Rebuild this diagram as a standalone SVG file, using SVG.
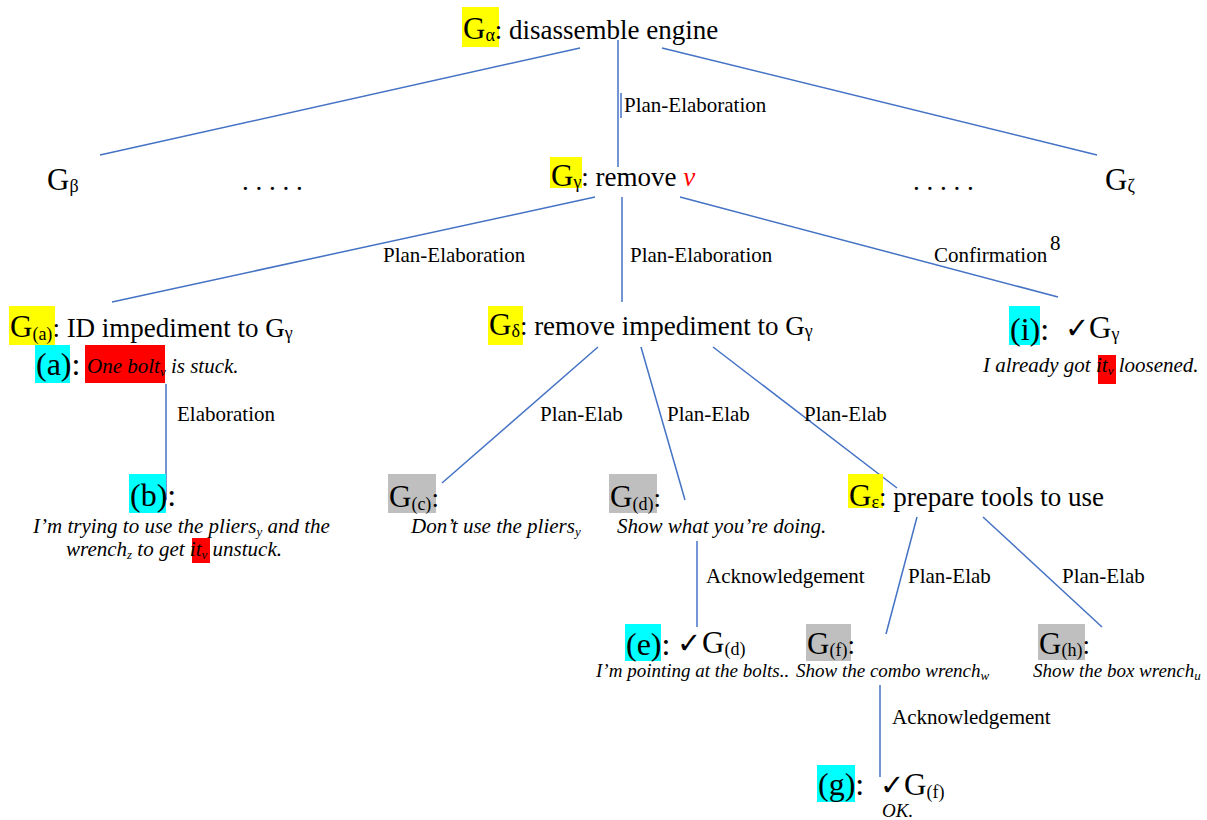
<svg xmlns="http://www.w3.org/2000/svg" width="1207" height="820" viewBox="0 0 1207 820">
<style>
text { font-family: "Liberation Serif", "Times New Roman", serif; fill: #000; }
.n { font-size: 27px; }
.g { font-size: 31px; }
.sub { font-size: 18px; }
.p { font-size: 32px; }
.it { font-size: 21px; font-style: italic; }
.it2 { font-size: 19px; font-style: italic; }
.isub { font-size: 13px; }
.lbl { font-size: 21px; }
.chk { font-family: "DejaVu Sans", sans-serif; font-size: 29px; font-weight: bold; }
.yel { fill: #FFFF00; }
.cyn { fill: #00FFFF; }
.gry { fill: #BFBFBF; }
.red { fill: #FF0000; }
.rv { fill: #FF0000; font-style: italic; }
.conn line { stroke: #4472C4; stroke-width: 1.5; fill: none; }
</style>
<rect x="0" y="0" width="1207" height="820" fill="#FFFFFF"/>

<g id="connectors" class="conn">
  <line x1="580" y1="48" x2="100" y2="155"/>
  <line x1="618" y1="40" x2="618" y2="167"/>
  <line x1="621" y1="93" x2="621" y2="118"/>
  <line x1="662" y1="48" x2="1097" y2="155"/>
  <line x1="595" y1="197" x2="112" y2="302"/>
  <line x1="622" y1="197" x2="622" y2="302"/>
  <line x1="680" y1="197" x2="1058" y2="297"/>
  <line x1="166" y1="384" x2="166" y2="500"/>
  <line x1="598" y1="347" x2="442" y2="483"/>
  <line x1="641" y1="347" x2="685" y2="500"/>
  <line x1="713" y1="347" x2="897" y2="488"/>
  <line x1="697" y1="541" x2="697" y2="627"/>
  <line x1="917" y1="517" x2="886" y2="634"/>
  <line x1="983" y1="517" x2="1102" y2="627"/>
  <line x1="880" y1="685" x2="880" y2="777"/>
  <g id="labels">
    <text class="lbl" x="624" y="112">Plan-Elaboration</text>
    <text class="lbl" x="383" y="262">Plan-Elaboration</text>
    <text class="lbl" x="630" y="262">Plan-Elaboration</text>
    <text class="lbl" x="934" y="262">Confirmation</text>
    <text class="lbl" x="1050" y="250">8</text>
    <text class="lbl" x="177" y="421">Elaboration</text>
    <text class="lbl" x="540" y="421">Plan-Elab</text>
    <text class="lbl" x="667" y="421">Plan-Elab</text>
    <text class="lbl" x="804" y="421">Plan-Elab</text>
    <text class="lbl" x="706" y="583">Acknowledgement</text>
    <text class="lbl" x="908" y="583">Plan-Elab</text>
    <text class="lbl" x="1062" y="583">Plan-Elab</text>
    <text class="lbl" x="892" y="724">Acknowledgement</text>
  </g>
</g>

<g id="n-alpha">
  <rect class="yel" x="462" y="7" width="37" height="40"/>
  <text class="n" x="463" y="39"><tspan class="g">G</tspan><tspan class="sub" dy="2">α</tspan><tspan dy="-2">: disassemble engine</tspan></text>
</g>

<g id="n-beta">
  <text class="n" x="47" y="190"><tspan class="g">G</tspan><tspan class="sub" dy="2">β</tspan></text>
</g>

<g id="dots-left">
  <text class="n" x="242" y="190">. . . . .</text>
</g>

<g id="n-gamma">
  <rect class="yel" x="550" y="157" width="32" height="31"/>
  <text class="n" x="551" y="186"><tspan class="g">G</tspan><tspan class="sub" dy="2">γ</tspan><tspan dy="-2">: remove </tspan><tspan class="rv">v</tspan></text>
</g>

<g id="dots-right">
  <text class="n" x="913" y="190">. . . . .</text>
</g>

<g id="n-zeta">
  <text class="n" x="1105" y="190"><tspan class="g">G</tspan><tspan class="sub" dy="2">ζ</tspan></text>
</g>

<g id="n-Ga">
  <rect class="yel" x="9" y="306" width="46" height="39"/>
  <text class="n" x="10" y="337"><tspan class="g">G</tspan><tspan class="sub" dy="3">(a)</tspan><tspan dy="-3">: ID impediment to G</tspan><tspan class="sub" dy="2">γ</tspan></text>
</g>

<g id="n-a">
  <rect class="cyn" x="35" y="345" width="35" height="38"/>
  <rect class="red" x="85" y="345" width="80" height="38"/>
  <text class="p" x="36" y="375">(a):</text>
  <text class="it" x="87" y="373">One bolt<tspan class="isub" dy="3">v</tspan><tspan dy="-3"> is stuck.</tspan></text>
</g>

<g id="n-b">
  <rect class="cyn" x="129" y="474" width="37" height="39"/>
  <text class="p" x="130" y="506">(b):</text>
  <rect class="red" x="192" y="538" width="18" height="25"/>
  <text class="it" x="33" y="533">I’m trying to use the pliers<tspan class="isub" dy="3">y</tspan><tspan dy="-3"> and the</tspan></text>
  <text class="it" x="66" y="556">wrench<tspan class="isub" dy="3">z</tspan><tspan dy="-3"> to get it</tspan><tspan class="isub" dy="3">v</tspan><tspan dy="-3"> unstuck.</tspan></text>
</g>

<g id="n-delta">
  <rect class="yel" x="488" y="306" width="35" height="39"/>
  <text class="n" x="489" y="335"><tspan class="g">G</tspan><tspan class="sub" dy="2">δ</tspan><tspan dy="-2">: remove impediment to G</tspan><tspan class="sub" dy="2">γ</tspan></text>
</g>

<g id="n-i">
  <rect class="cyn" x="1009" y="306" width="31" height="39"/>
  <text class="p" x="1010" y="340">(i):</text>
  <text class="chk" x="1065" y="338">✓</text>
  <text class="n" x="1089" y="338"><tspan class="g">G</tspan><tspan class="sub" dy="2">γ</tspan></text>
  <rect class="red" x="1098" y="355" width="18" height="29"/>
  <text class="it" x="983" y="372">I already got it<tspan class="isub" dy="3">v</tspan><tspan dy="-3"> loosened.</tspan></text>
</g>

<g id="n-Gc">
  <rect class="gry" x="388" y="474" width="48" height="39"/>
  <text class="n" x="389" y="507"><tspan class="g">G</tspan><tspan class="sub" dy="3">(c)</tspan><tspan dy="-3">:</tspan></text>
  <text class="it" x="411" y="533">Don’t use the pliers<tspan class="isub" dy="3">y</tspan></text>
</g>

<g id="n-Gd">
  <rect class="gry" x="609" y="474" width="48" height="39"/>
  <text class="n" x="610" y="507"><tspan class="g">G</tspan><tspan class="sub" dy="3">(d)</tspan><tspan dy="-3">:</tspan></text>
  <text class="it" x="617" y="533">Show what you’re doing.</text>
</g>

<g id="n-epsilon">
  <rect class="yel" x="848" y="474" width="35" height="34"/>
  <text class="n" x="849" y="506"><tspan class="g">G</tspan><tspan class="sub" dy="2">ε</tspan><tspan dy="-2">: prepare tools to use</tspan></text>
</g>

<g id="n-e">
  <rect class="cyn" x="625" y="624" width="36" height="37"/>
  <text class="p" x="626" y="655">(e):</text>
  <text class="chk" x="677" y="653">✓</text>
  <text class="n" x="702" y="653"><tspan class="g">G</tspan><tspan class="sub" dy="2">(d)</tspan></text>
  <text class="it2" x="596" y="677">I’m pointing at the bolts..</text>
</g>

<g id="n-Gf">
  <rect class="gry" x="806" y="624" width="45" height="37"/>
  <text class="n" x="807" y="654"><tspan class="g">G</tspan><tspan class="sub" dy="2">(f)</tspan><tspan dy="-2">:</tspan></text>
  <text class="it2" x="796" y="677">Show the combo wrench<tspan class="isub" dy="3">w</tspan></text>
</g>

<g id="n-Gh">
  <rect class="gry" x="1038" y="624" width="47" height="36"/>
  <text class="n" x="1039" y="654"><tspan class="g">G</tspan><tspan class="sub" dy="2">(h)</tspan><tspan dy="-2">:</tspan></text>
  <text class="it2" x="1033" y="677">Show the box wrench<tspan class="isub" dy="3">u</tspan></text>
</g>

<g id="n-g">
  <rect class="cyn" x="817" y="765" width="38" height="37"/>
  <text class="p" x="818" y="795">(g):</text>
  <text class="chk" x="880" y="795">✓</text>
  <text class="n" x="904" y="795"><tspan class="g">G</tspan><tspan class="sub" dy="3">(f)</tspan></text>
  <text class="it2" x="882" y="817">OK.</text>
</g>
</svg>
